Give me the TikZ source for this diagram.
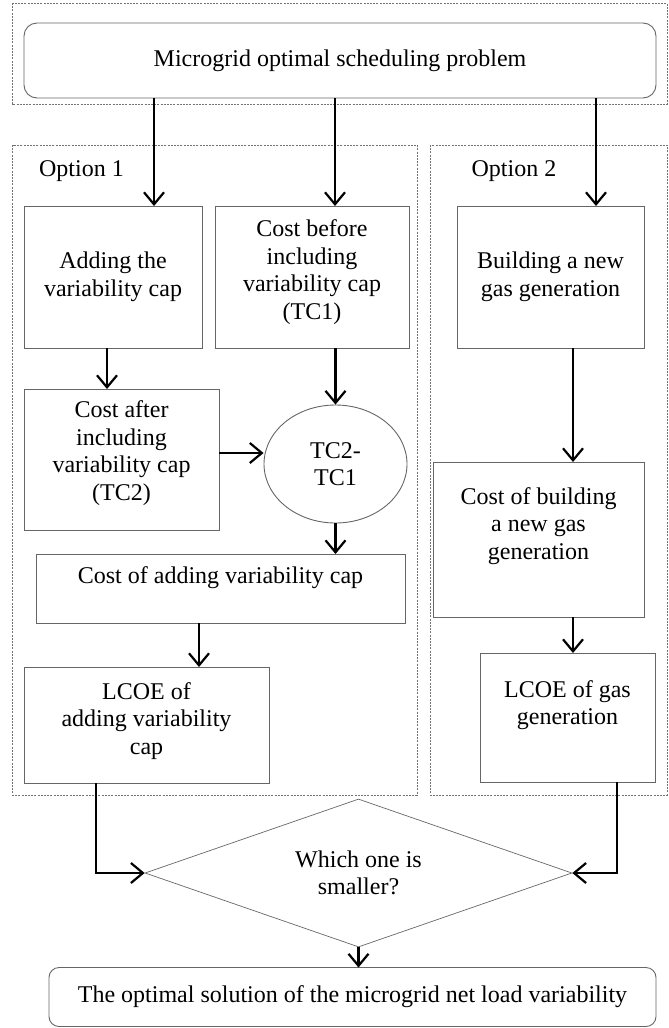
\documentclass[tikz,border=0pt]{standalone}
\usepackage{fontspec}
\setmainfont{Liberation Serif}
\usetikzlibrary{arrows.meta,shapes.geometric}
\begin{document}
\begin{tikzpicture}[x=1pt,y=-1pt,
  font=\fontsize{24}{27.5}\selectfont,
  frame/.style={draw=black!55, line width=0.7pt, dash pattern=on 2pt off 1.2pt},
  box/.style={draw=black!60, line width=0.9pt, rectangle, inner sep=0pt, outer sep=0pt, align=center},
  arr/.style={line width=2.2pt, -{Straight Barb[length=12pt,width=20pt]}},
  lab/.style={align=center, yshift=#1},
]
\useasboundingbox (0,0) rectangle (669,1028);
% frames
\draw[frame] (12,3) rectangle (667,104);
\draw[frame] (12.5,145) rectangle (417,795);
\draw[frame] (430,145) rectangle (667,795);
% labels
\node (o1) at (81.5,171) {Option 1};
\node (o2) at (514,171) {Option 2};
% boxes
\node[box, rounded corners=13pt, minimum width=632pt, minimum height=75pt] (top) at (340,60.5) {Microgrid optimal scheduling problem};
\node[box, minimum width=178pt, minimum height=142pt] (A) at (113,277) {Adding the\\variability cap};
\node[box, minimum width=194pt, minimum height=142pt,
  label={[lab=5pt]center:Cost before\\including\\variability cap\\(TC1)}] (B) at (312,277) {};
\node[box, minimum width=187pt, minimum height=142pt] (C) at (550.5,277) {Building a new\\gas generation};
\node[box, minimum width=195pt, minimum height=141pt,
  label={[lab=6.5pt]center:Cost after\\including\\variability cap\\(TC2)}] (D) at (121.5,459.5) {};
\node[ellipse, draw=black!60, line width=0.9pt, minimum width=143pt, minimum height=118pt, inner sep=0pt, align=center] (E) at (335.5,464) {TC2-\\TC1};
\node[box, minimum width=369pt, minimum height=69pt,
  label={[lab=10.5pt]center:Cost of adding variability cap}] (F) at (220.5,588.5) {};
\node[box, minimum width=211pt, minimum height=155pt,
  label={[lab=13.5pt]center:Cost of building\\a new gas\\generation}] (G) at (538.5,539.5) {};
\node[box, minimum width=245pt, minimum height=116pt,
  label={[lab=4pt]center:LCOE of\\adding variability\\cap}] (H) at (146.5,725) {};
\node[box, minimum width=175pt, minimum height=129pt,
  label={[lab=12.5pt]center:LCOE of gas\\generation}] (I) at (567.5,717.5) {};
\node[diamond, draw=black!60, line width=0.7pt, minimum width=427pt, minimum height=148pt, inner sep=0pt, aspect=2.885, align=center] (J) at (358.5,873) {Which one is\\smaller?};
\node[box, rounded corners=10pt, minimum width=607pt, minimum height=59pt] (K) at (352.5,997) {The optimal solution of the microgrid net load variability};
% connector helpers
\coordinate (c1) at (154,0);
\coordinate (c2) at (335,0);
\coordinate (c3) at (596,0);
\coordinate (c4) at (107,0);
\coordinate (c5) at (199,0);
\coordinate (c6) at (573,0);
\coordinate (c7) at (96,0);
\coordinate (c8) at (617,0);
\coordinate (cy) at (0,453);
% connectors
\draw[arr] (top.south -| c1) -- (A.north -| c1);
\draw[arr] (top.south -| c2) -- (B.north -| c2);
\draw[arr] (top.south -| c3) -- (C.north -| c3);
\draw[arr] (A.south -| c4) -- (D.north -| c4);
\draw[arr] (B.south -| E.north) -- (E.north);
\draw[arr] (D.east |- cy) -- (E.west |- cy);
\draw[arr] (E.south) -- (F.north -| E.south);
\draw[arr] (F.south -| c5) -- (H.north -| c5);
\draw[arr] (C.south -| c6) -- (G.north -| c6);
\draw[arr] (G.south -| c6) -- (I.north -| c6);
\draw[arr] (H.south -| c7) |- (J.west);
\draw[arr] (I.south -| c8) |- (J.east);
\draw[arr] (J.south) -- (K.north -| J.south);
\end{tikzpicture}
\end{document}
